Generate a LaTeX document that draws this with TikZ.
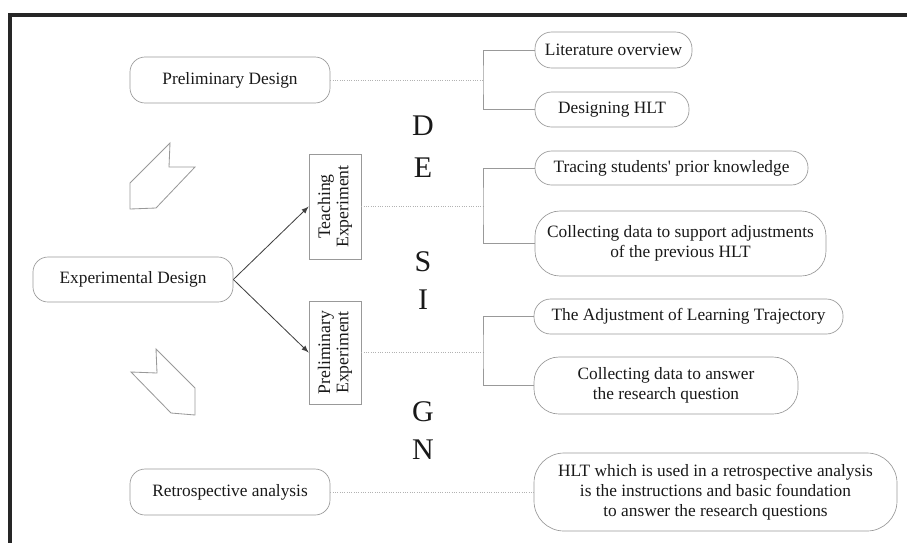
\documentclass[tikz,border=0pt]{standalone}
\usepackage{fontspec}
\setmainfont{Liberation Serif}
\usepackage{tikz}
\usetikzlibrary{positioning,arrows,calc}

\begin{document}
\begin{tikzpicture}[>=latex, x=0.6pt, y=-0.6pt,
	stage/.style={draw=black!40, rounded corners=9pt, inner sep=0pt,
		minimum width=120pt, minimum height=27.6pt, text=black!90,
		font=\fontsize{10.4}{12}\selectfont},
	pill/.style={draw=black!40, inner sep=0pt, align=center, text=black!90,
		font=\fontsize{10.4}{12}\selectfont},
	phase/.style={draw=black!40, rotate=90, inner sep=0pt, align=center,
		minimum height=31.2pt, text=black!90,
		font=\fontsize{10.6}{11}\selectfont},
	letter/.style={text=black!90, font=\fontsize{18}{18}\selectfont},
	link/.style={black!40, line width=0.5pt},
	guide/.style={black!30, densely dotted, line width=0.4pt}]
	\useasboundingbox (0,0) rectangle (907,543);
	% frame
	\draw[line width=2.4pt, black!85] (907,15) -- (10,15) -- (10,543);

	% stages
	\node[stage] (prelim) at (230,80) {Preliminary Design};
	\node[stage, minimum height=27pt] (expdes) at (133,279.5) {Experimental Design};
	\node[stage] (retro) at (230,492) {Retrospective analysis};

	\node[phase, minimum width=63pt] (teach) at (335,206.5) {Teaching\\Experiment};
	\node[phase, minimum width=61.8pt] (prexp) at (335,352.5) {Preliminary\\Experiment};

	% D E S I G N
	\node[letter] (d1) at (423,126) {D};
	\node[letter] (d2) at (423,168) {E};
	\node[letter] (d3) at (423,262) {S};
	\node[letter] (d4) at (423,300) {I};
	\node[letter] (d5) at (423,412) {G};
	\node[letter] (d6) at (423,450) {N};

	% activities
	\node[pill, rounded corners=10pt, minimum width=94.2pt, minimum height=21.6pt]
		(lit) at (613.5,50) {Literature overview};
	\node[pill, rounded corners=10pt, minimum width=92.4pt, minimum height=21pt]
		(dhlt) at (612,109.5) {Designing HLT};
	\node[pill, rounded corners=10pt, minimum width=163.8pt, minimum height=20.4pt]
		(trace) at (671.5,168) {Tracing students\textquotesingle{} prior knowledge};
	\node[pill, rounded corners=15pt, minimum width=174.6pt, minimum height=39pt]
		(colsup) at (680.5,243.5) {Collecting data to support adjustments\\of the previous HLT};
	\node[pill, rounded corners=10pt, minimum width=185.4pt, minimum height=21pt]
		(adjust) at (688.5,316.5) {The Adjustment of Learning Trajectory};
	\node[pill, rounded corners=15pt, minimum width=158.4pt, minimum height=34.2pt]
		(colans) at (666,385.5) {Collecting data to answer\\the research question};
	\node[pill, rounded corners=18pt, minimum width=217.8pt, minimum height=46.8pt]
		(hltret) at (715.5,492) {HLT which is used in a retrospective analysis\\is the instructions and basic foundation\\to answer the research questions};

	\coordinate (j1) at (483,80);
	\coordinate (j2) at (483,206.5);
	\coordinate (j3) at (483,352.5);

	\draw[->, black!75, line width=0.5pt] (expdes.east) -- (teach.north);
	\draw[->, black!75, line width=0.5pt] (expdes.east) -- (prexp.north);

	\draw[guide] (prelim.east) -- (j1);
	\draw[guide] (teach.south) -- (j2);
	\draw[guide] (prexp.south) -- (j3);
	\draw[guide] (retro.east) -- (hltret.west);

	\draw[link] (lit.west) -| (j1) |- (dhlt.west);
	\draw[link] (trace.west) -| (j2) |- (colsup.west);
	\draw[link] (adjust.west) -| (j3) |- (colans.west);

	% block arrows
	\draw[black!40, line width=0.5pt] (170,143) -- (169,167) -- (195,167) -- (156,208)
		-- (130,209) -- (130,183) -- cycle;
	\draw[black!40, line width=0.5pt] (156,349) -- (157,373) -- (131,372) -- (171,413)
		-- (195,415) -- (195,388) -- cycle;
\end{tikzpicture}
\end{document}
